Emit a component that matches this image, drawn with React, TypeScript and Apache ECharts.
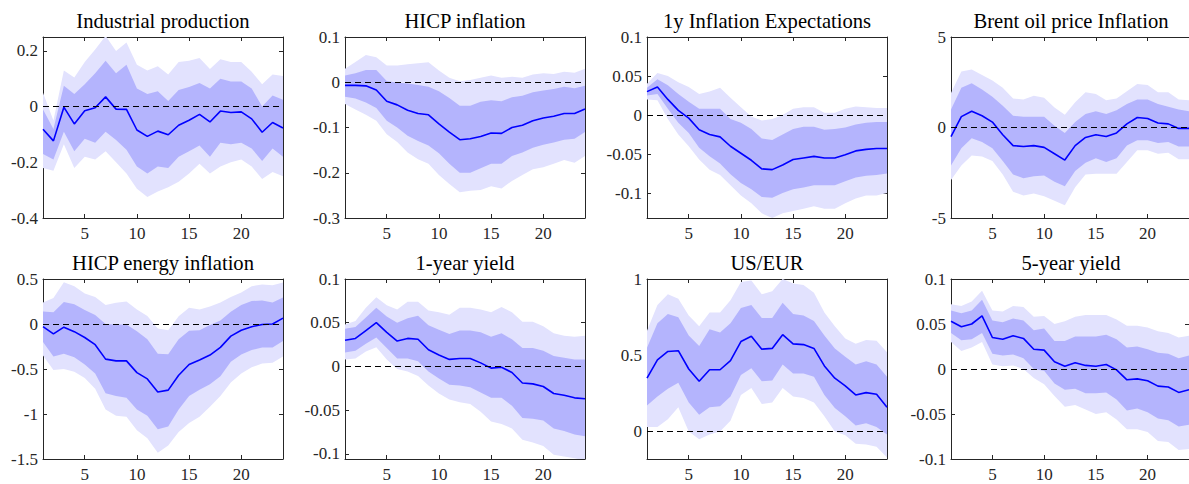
import React, { useEffect, useRef } from "react";
import * as echarts from "echarts";

const horizons = [1, 2, 3, 4, 5, 6, 7, 8, 9, 10, 11, 12, 13, 14, 15, 16, 17, 18, 19, 20, 21, 22, 23, 24];
const xTicks = [5, 10, 15, 20];

const titles = [
  "Industrial production",
  "HICP inflation",
  "1y Inflation Expectations",
  "Brent oil price Inflation",
  "HICP energy inflation",
  "1-year yield",
  "US/EUR",
  "5-year yield",
];

// Industrial production
const ipMed = [-0.081, -0.123, -0.002, -0.062, -0.015, -0.004, 0.035, -0.009, -0.01, -0.084, -0.107, -0.088, -0.101, -0.067, -0.049, -0.028, -0.055, -0.016, -0.021, -0.019, -0.044, -0.092, -0.057, -0.077];
const ipDarkHi = [-0.01, -0.08, 0.075, 0.045, 0.08, 0.12, 0.165, 0.12, 0.15, 0.065, 0.045, 0.055, 0.02, 0.06, 0.07, 0.085, 0.065, 0.1, 0.09, 0.09, 0.065, 0.0, 0.04, 0.025];
const ipDarkLo = [-0.17, -0.19, -0.09, -0.16, -0.115, -0.13, -0.09, -0.12, -0.155, -0.215, -0.24, -0.215, -0.22, -0.18, -0.16, -0.14, -0.18, -0.13, -0.135, -0.13, -0.15, -0.195, -0.15, -0.18];
const ipLightHi = [0.05, -0.05, 0.13, 0.105, 0.16, 0.205, 0.254, 0.2, 0.23, 0.15, 0.13, 0.145, 0.115, 0.16, 0.165, 0.175, 0.135, 0.17, 0.16, 0.16, 0.125, 0.08, 0.115, 0.11];
const ipLightLo = [-0.22, -0.23, -0.135, -0.22, -0.18, -0.19, -0.16, -0.2, -0.24, -0.295, -0.325, -0.305, -0.29, -0.27, -0.24, -0.205, -0.24, -0.215, -0.2, -0.19, -0.215, -0.26, -0.235, -0.25];

// HICP inflation
const hiMed = [-0.007, -0.007, -0.008, -0.017, -0.042, -0.05, -0.062, -0.069, -0.072, -0.092, -0.11, -0.127, -0.125, -0.12, -0.112, -0.113, -0.1, -0.095, -0.085, -0.079, -0.075, -0.069, -0.069, -0.059];
const hiDarkHi = [0.015, 0.02, 0.027, 0.027, 0.003, -0.001, -0.003, -0.006, -0.01, -0.02, -0.035, -0.052, -0.052, -0.043, -0.04, -0.042, -0.033, -0.03, -0.022, -0.018, -0.015, -0.01, -0.013, -0.008];
const hiDarkLo = [-0.032, -0.036, -0.045, -0.057, -0.085, -0.1, -0.118, -0.13, -0.14, -0.157, -0.18, -0.2, -0.2, -0.19, -0.18, -0.18, -0.163, -0.155, -0.145, -0.138, -0.133, -0.127, -0.125, -0.11];
const hiLightHi = [0.03, 0.045, 0.06, 0.055, 0.037, 0.037, 0.04, 0.042, 0.044, 0.026, 0.01, 0.002, 0.005, 0.01, 0.015, 0.01, 0.012, 0.01, 0.017, 0.02, 0.018, 0.023, 0.021, 0.03];
const hiLightLo = [-0.048, -0.06, -0.072, -0.085, -0.115, -0.132, -0.155, -0.17, -0.18, -0.205, -0.225, -0.243, -0.24, -0.238, -0.23, -0.235, -0.218, -0.205, -0.192, -0.188, -0.18, -0.172, -0.178, -0.163];

// 1y Inflation Expectations
const ieMed = [0.03, 0.036, 0.02, 0.006, -0.004, -0.019, -0.025, -0.028, -0.04, -0.049, -0.058, -0.069, -0.07, -0.064, -0.057, -0.055, -0.053, -0.055, -0.055, -0.051, -0.046, -0.044, -0.043, -0.043];
const ieDarkHi = [0.035, 0.046, 0.038, 0.027, 0.017, 0.008, 0.008, 0.008, -0.005, -0.01, -0.018, -0.03, -0.032, -0.025, -0.018, -0.015, -0.015, -0.019, -0.018, -0.016, -0.012, -0.01, -0.009, -0.009];
const ieDarkLo = [0.025, 0.027, 0.008, -0.01, -0.023, -0.042, -0.053, -0.062, -0.076, -0.087, -0.095, -0.105, -0.106, -0.1, -0.095, -0.093, -0.09, -0.09, -0.09, -0.085, -0.08, -0.078, -0.077, -0.075];
const ieLightHi = [0.04, 0.054, 0.05, 0.042, 0.036, 0.027, 0.03, 0.035, 0.022, 0.01, -0.002, -0.007, -0.005, 0.0, 0.008, 0.01, 0.01, 0.003, 0.003, 0.008, 0.011, 0.01, 0.009, 0.009];
const ieLightLo = [0.02, 0.019, -0.005, -0.025, -0.04, -0.057, -0.07, -0.077, -0.09, -0.103, -0.113, -0.126, -0.132, -0.126, -0.123, -0.12, -0.117, -0.12, -0.12, -0.113, -0.107, -0.103, -0.103, -0.1];

// Brent oil price inflation
const boMed = [-0.5, 0.6, 0.9, 0.65, 0.3, -0.4, -1.0, -1.05, -1.0, -1.1, -1.45, -1.8, -1.0, -0.55, -0.4, -0.5, -0.3, 0.2, 0.55, 0.5, 0.25, 0.2, -0.05, -0.05];
const boDarkHi = [1.0, 2.2, 2.45, 2.1, 1.7, 1.2, 0.65, 0.6, 0.6, 0.6, 0.1, -0.3, 0.3, 0.75, 0.9, 0.75, 0.95, 1.3, 1.55, 1.55, 1.3, 1.15, 1.0, 0.9];
const boDarkLo = [-2.1, -1.15, -0.6, -0.8, -1.15, -1.85, -2.6, -2.8, -2.7, -2.65, -3.0, -3.25, -2.4, -1.95, -1.7, -1.9, -1.7, -1.0, -0.7, -0.7, -0.85, -0.8, -1.05, -1.05];
const boLightHi = [1.9, 3.1, 3.2, 2.9, 2.6, 2.2, 1.6, 1.55, 1.75, 1.65, 1.1, 0.7, 1.4, 1.95, 1.85, 1.5, 1.6, 2.0, 2.4, 2.35, 1.95, 1.95, 1.55, 1.5];
const boLightLo = [-2.9, -2.1, -1.55, -1.6, -1.85, -2.6, -3.55, -3.75, -3.65, -3.8, -4.05, -4.3, -3.3, -2.6, -2.55, -2.55, -2.55, -1.9, -1.25, -1.25, -1.45, -1.4, -1.75, -1.75];

// HICP energy inflation
const heMed = [-0.03, -0.11, -0.035, -0.085, -0.15, -0.23, -0.39, -0.41, -0.41, -0.54, -0.61, -0.755, -0.735, -0.57, -0.45, -0.4, -0.345, -0.26, -0.135, -0.07, -0.03, -0.005, 0.0, 0.065];
const heDarkHi = [0.14, 0.13, 0.245, 0.22, 0.155, 0.1, 0.0, -0.005, -0.005, -0.08, -0.17, -0.33, -0.335, -0.17, -0.075, -0.07, -0.01, 0.04, 0.135, 0.21, 0.255, 0.26, 0.24, 0.295];
const heDarkLo = [-0.2, -0.36, -0.33, -0.37, -0.45, -0.55, -0.77, -0.8, -0.82, -0.95, -1.02, -1.17, -1.14, -0.95, -0.8, -0.73, -0.67, -0.58, -0.42, -0.34, -0.29, -0.26, -0.26, -0.19];
const heLightHi = [0.24, 0.29, 0.465, 0.42, 0.34, 0.3, 0.21, 0.235, 0.25, 0.16, 0.09, -0.05, -0.07, 0.085, 0.18, 0.16, 0.195, 0.24, 0.3, 0.35, 0.42, 0.44, 0.43, 0.46];
const heLightLo = [-0.35, -0.51, -0.5, -0.53, -0.6, -0.72, -0.95, -1.02, -1.03, -1.18, -1.27, -1.43, -1.35, -1.2, -1.1, -1.03, -0.92, -0.8, -0.65, -0.55, -0.48, -0.44, -0.43, -0.36];

// 1-year yield
const y1Med = [0.03, 0.032, 0.041, 0.05, 0.039, 0.029, 0.032, 0.031, 0.019, 0.013, 0.008, 0.009, 0.009, 0.004, -0.002, -0.001, -0.007, -0.019, -0.02, -0.023, -0.031, -0.033, -0.036, -0.037];
const y1DarkHi = [0.043, 0.045, 0.056, 0.067, 0.057, 0.05, 0.055, 0.058, 0.047, 0.042, 0.037, 0.041, 0.041, 0.039, 0.034, 0.038, 0.031, 0.021, 0.021, 0.018, 0.012, 0.01, 0.008, 0.008];
const y1DarkLo = [0.016, 0.018, 0.026, 0.033, 0.021, 0.009, 0.009, 0.006, -0.006, -0.014, -0.021, -0.022, -0.024, -0.03, -0.036, -0.036, -0.045, -0.059, -0.06, -0.062, -0.071, -0.074, -0.078, -0.08];
const y1LightHi = [0.048, 0.052, 0.067, 0.079, 0.07, 0.065, 0.074, 0.074, 0.064, 0.062, 0.059, 0.067, 0.067, 0.065, 0.062, 0.068, 0.062, 0.051, 0.051, 0.046, 0.038, 0.035, 0.034, 0.035];
const y1LightLo = [0.008, 0.009, 0.017, 0.022, 0.008, -0.003, -0.006, -0.011, -0.022, -0.031, -0.038, -0.041, -0.043, -0.052, -0.063, -0.066, -0.071, -0.084, -0.087, -0.091, -0.101, -0.103, -0.105, -0.108];

// US/EUR
const fxMed = [0.35, 0.47, 0.525, 0.53, 0.41, 0.33, 0.405, 0.405, 0.465, 0.59, 0.625, 0.54, 0.545, 0.635, 0.575, 0.57, 0.545, 0.43, 0.35, 0.3, 0.24, 0.255, 0.245, 0.16];
const fxDarkHi = [0.55, 0.71, 0.77, 0.75, 0.63, 0.56, 0.67, 0.65, 0.71, 0.81, 0.83, 0.745, 0.745, 0.845, 0.77, 0.76, 0.725, 0.63, 0.545, 0.49, 0.44, 0.46, 0.44, 0.36];
const fxDarkLo = [0.17, 0.23, 0.28, 0.32, 0.19, 0.11, 0.16, 0.165, 0.23, 0.37, 0.415, 0.33, 0.335, 0.44, 0.38, 0.38, 0.36, 0.24, 0.155, 0.1, 0.04, 0.055, 0.03, -0.02];
const fxLightHi = [0.66, 0.83, 0.9, 0.87, 0.76, 0.69, 0.78, 0.78, 0.86, 0.98, 0.99, 0.9, 0.92, 1.0, 0.97, 0.96, 0.91, 0.78, 0.69, 0.61, 0.575, 0.6, 0.595, 0.52];
const fxLightLo = [0.03, 0.03, 0.08, 0.16, 0.0, -0.05, -0.02, 0.0, 0.07, 0.24, 0.285, 0.18, 0.19, 0.285, 0.23, 0.22, 0.19, 0.1, 0.0, -0.025, -0.08, -0.085, -0.1, -0.17];

// 5-year yield
const y5Med = [0.053, 0.047, 0.05, 0.059, 0.035, 0.033, 0.037, 0.034, 0.022, 0.021, 0.008, 0.003, 0.007, 0.004, 0.003, 0.005, -0.001, -0.012, -0.011, -0.013, -0.019, -0.02, -0.026, -0.023];
const y5DarkHi = [0.065, 0.062, 0.065, 0.077, 0.054, 0.052, 0.056, 0.054, 0.043, 0.045, 0.031, 0.031, 0.036, 0.036, 0.036, 0.038, 0.033, 0.024, 0.025, 0.022, 0.018, 0.017, 0.012, 0.015];
const y5DarkLo = [0.04, 0.032, 0.033, 0.04, 0.017, 0.015, 0.016, 0.012, 0.0, -0.002, -0.016, -0.023, -0.022, -0.027, -0.027, -0.026, -0.034, -0.046, -0.044, -0.048, -0.055, -0.057, -0.064, -0.062];
const y5LightHi = [0.072, 0.07, 0.075, 0.087, 0.065, 0.064, 0.07, 0.069, 0.058, 0.059, 0.05, 0.053, 0.058, 0.06, 0.06, 0.06, 0.055, 0.048, 0.048, 0.046, 0.042, 0.04, 0.035, 0.037];
const y5LightLo = [0.03, 0.02, 0.024, 0.03, 0.005, 0.003, 0.004, 0.0, -0.01, -0.017, -0.03, -0.042, -0.04, -0.045, -0.05, -0.048, -0.056, -0.067, -0.067, -0.07, -0.08, -0.081, -0.09, -0.089];

// y-axis ranges and tick labels
const yMins = [-0.4, -0.3, -0.132, -5, -1.5, -0.106, -0.18, -0.1];
const yMaxs = [0.25, 0.1, 0.1, 5, 0.5, 0.1, 1, 0.1];
const yTickLists = [
  [-0.4, -0.2, 0, 0.2],
  [-0.3, -0.2, -0.1, 0, 0.1],
  [-0.1, -0.05, 0, 0.05, 0.1],
  [-5, 0, 5],
  [-1.5, -1, -0.5, 0, 0.5],
  [-0.1, -0.05, 0, 0.05, 0.1],
  [0, 0.5, 1],
  [-0.1, -0.05, 0, 0.05, 0.1],
];

const panels = [
  { med: ipMed, dLo: ipDarkLo, dHi: ipDarkHi, lLo: ipLightLo, lHi: ipLightHi },
  { med: hiMed, dLo: hiDarkLo, dHi: hiDarkHi, lLo: hiLightLo, lHi: hiLightHi },
  { med: ieMed, dLo: ieDarkLo, dHi: ieDarkHi, lLo: ieLightLo, lHi: ieLightHi },
  { med: boMed, dLo: boDarkLo, dHi: boDarkHi, lLo: boLightLo, lHi: boLightHi },
  { med: heMed, dLo: heDarkLo, dHi: heDarkHi, lLo: heLightLo, lHi: heLightHi },
  { med: y1Med, dLo: y1DarkLo, dHi: y1DarkHi, lLo: y1LightLo, lHi: y1LightHi },
  { med: fxMed, dLo: fxDarkLo, dHi: fxDarkHi, lLo: fxLightLo, lHi: fxLightHi },
  { med: y5Med, dLo: y5DarkLo, dHi: y5DarkHi, lLo: y5LightLo, lHi: y5LightHi },
];

const FONT = '"Liberation Serif", "DejaVu Serif", serif';
const LIGHT = "#e2e2fe";
const DARK = "#b4b4fd";
const LINE = "#0000ff";
const AXIS = "#262626";

function buildOption() {
  const colLeft = [43, 345, 647, 951];
  const rowTop = [37, 279];
  const rowH = [181, 180];
  const titleY = [21, 263];
  const W = 240;

  const grid: any[] = [];
  const xAxis: any[] = [];
  const yAxis: any[] = [];
  const series: any[] = [];
  const graphic: any[] = [];

  const pair = (arr: number[]) => arr.map((v, k) => [horizons[k], v]);

  panels.forEach((p, i) => {
    const col = i % 4;
    const row = Math.floor(i / 4);
    grid.push({ left: colLeft[col], top: rowTop[row], width: W, height: rowH[row], show: false });

    const axisLine = { show: true, onZero: false, lineStyle: { color: AXIS, width: 1 } };
    const xTick = { show: true, inside: true, length: 4, customValues: xTicks, lineStyle: { color: AXIS } };
    const yTick = { show: true, inside: true, length: 4, customValues: yTickLists[i], lineStyle: { color: AXIS } };

    xAxis.push({
      gridIndex: i, type: "value", min: 1, max: 24, position: "bottom",
      axisLine, axisTick: xTick, splitLine: { show: false },
      axisLabel: { customValues: xTicks, fontFamily: FONT, fontSize: 17, color: AXIS, margin: 7 },
    });
    xAxis.push({
      gridIndex: i, type: "value", min: 1, max: 24, position: "top",
      axisLine, axisTick: xTick, splitLine: { show: false }, axisLabel: { show: false },
    });
    yAxis.push({
      gridIndex: i, type: "value", min: yMins[i], max: yMaxs[i], position: "left",
      axisLine, axisTick: yTick, splitLine: { show: false },
      axisLabel: {
        customValues: yTickLists[i], fontFamily: FONT, fontSize: 17, color: AXIS, margin: 5,
        formatter: (v: number) => String(+(+v).toFixed(4)),
      },
    });
    yAxis.push({
      gridIndex: i, type: "value", min: yMins[i], max: yMaxs[i], position: "right",
      axisLine, axisTick: yTick, splitLine: { show: false }, axisLabel: { show: false },
    });

    series.push({
      type: "custom",
      xAxisIndex: 2 * i,
      yAxisIndex: 2 * i,
      silent: true,
      clip: true,
      z: 2,
      data: [[horizons[0], 0]],
      renderItem: (params: any, api: any) => {
        const cs = params.coordSys;
        const band = (hi: number[], lo: number[]) => {
          const top = hi.map((v, k) => api.coord([horizons[k], v]));
          const bot = lo.map((v, k) => api.coord([horizons[k], v])).reverse();
          return top.concat(bot);
        };
        return {
          type: "group",
          clipPath: { type: "rect", shape: { x: cs.x, y: cs.y, width: cs.width, height: cs.height } },
          children: [
            { type: "polygon", shape: { points: band(p.lHi, p.lLo) }, style: { fill: LIGHT } },
            { type: "polygon", shape: { points: band(p.dHi, p.dLo) }, style: { fill: DARK } },
          ],
        };
      },
    });
    series.push({
      type: "line", xAxisIndex: 2 * i, yAxisIndex: 2 * i, data: pair(p.med),
      symbol: "none", showSymbol: false, silent: true, z: 4,
      lineStyle: { color: LINE, width: 1.6 },
      markLine: {
        silent: true, symbol: ["none", "none"], label: { show: false },
        lineStyle: { color: "#000", type: [6, 4], width: 1 },
        data: [{ yAxis: 0 }],
      },
    });

    graphic.push({
      type: "text",
      x: colLeft[col] + W / 2,
      y: titleY[row],
      style: {
        text: titles[i], font: `20.6px ${FONT}`, fill: "#000",
        align: "center", verticalAlign: "middle",
        textAlign: "center", textVerticalAlign: "middle",
      },
    });
  });

  return { animation: false, backgroundColor: "#fff", grid, xAxis, yAxis, series, graphic };
}

export default function App() {
  const ref = useRef<HTMLDivElement>(null);
  useEffect(() => {
    if (!ref.current) return;
    const chart = echarts.init(ref.current, null, { renderer: "svg" });
    chart.setOption(buildOption() as any);
    return () => chart.dispose();
  }, []);
  return (
    <div
      ref={ref}
      style={{ position: "absolute", left: 0, top: 0, width: 1189, height: 484, background: "#fff" }}
    />
  );
}
